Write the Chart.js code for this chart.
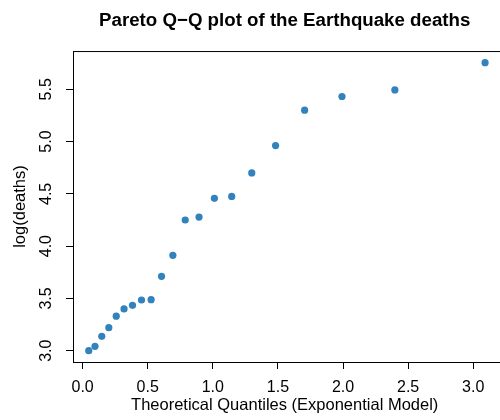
<!DOCTYPE html>
<html>
<head>
<meta charset="utf-8">
<script src="https://cdn.jsdelivr.net/npm/chart.js@4"></script>
<style>
  html, body { margin:0; padding:0; background:#fff; overflow:hidden; }
  #wrap { width:500px; height:420px; }
</style>
</head>
<body>
<div id="wrap"><canvas id="qq" width="500" height="420"></canvas></div>
<script>
// theoretical exponential quantiles vs log(deaths)
const quantiles = [0.047, 0.095, 0.147, 0.201, 0.258, 0.318, 0.383, 0.452, 0.526, 0.606, 0.693,
                   0.788, 0.894, 1.012, 1.145, 1.299, 1.482, 1.705, 1.992, 2.398, 3.091];
const logDeaths = [3.000, 3.042, 3.138, 3.220, 3.330, 3.400, 3.434, 3.485, 3.488, 3.711, 3.912,
                   4.250, 4.278, 4.457, 4.476, 4.700, 4.962, 5.300, 5.431, 5.494, 5.755];
const xTicks = [0, 0.5, 1, 1.5, 2, 2.5, 3];
const yTicks = [3, 3.5, 4, 4.5, 5, 5.5];

const FONT = "'Liberation Sans', Arial, Helvetica, sans-serif";

// R-style box around the plot region (right side runs off the canvas)
const frame = {
    id: "frame",
    afterDatasetsDraw(chart) {
        const { ctx, chartArea: a } = chart;
        ctx.save();
        ctx.strokeStyle = "#000";
        ctx.lineWidth = 1;
        ctx.strokeRect(a.left + 0.5, a.top + 0.5, a.right - a.left + 20, a.bottom - a.top);
        ctx.restore();
    }
};

new Chart(document.getElementById("qq"), {
    type: "scatter",
    data: {
        datasets: [{
            data: quantiles.map((q, i) => ({ x: q, y: logDeaths[i] })),
            backgroundColor: "#3182bd",
            borderColor: "#3182bd",
            borderWidth: 0,
            pointRadius: 3.6,
            pointHoverRadius: 3.6,
        }],
    },
    options: {
        responsive: false,
        animation: false,
        layout: { padding: 0 },
        plugins: {
            legend: { display: false },
            tooltip: { enabled: false },
            title: {
                display: true,
                text: "Pareto Q\u2212Q plot of the Earthquake deaths",
                color: "#000",
                fullSize: false,
                font: { family: FONT, size: 18.7, weight: "bold" },
                padding: { top: 9.8, bottom: 18.8 },
            },
        },
        scales: {
            x: {
                type: "linear",
                min: -0.074, max: 3.178,
                afterBuildTicks: s => { s.ticks = xTicks.map(v => ({ value: v })); },
                afterFit: s => { s.height = 58; },
                border: { display: false },
                grid: { drawOnChartArea: false, drawTicks: true, tickLength: 7, tickColor: "#000" },
                ticks: {
                    color: "#000", padding: 9, maxRotation: 0,
                    font: { family: FONT, size: 16 },
                    callback: v => v.toFixed(1),
                },
                title: {
                    display: true, text: "Theoretical Quantiles (Exponential Model)",
                    color: "#000", font: { family: FONT, size: 16.5 }, padding: { bottom: 5 },
                },
            },
            y: {
                type: "linear",
                min: 2.892, max: 5.866,
                afterBuildTicks: s => { s.ticks = yTicks.map(v => ({ value: v })); },
                afterFit: s => { s.width = 73; },
                border: { display: false },
                grid: { drawOnChartArea: false, drawTicks: true, tickLength: 7, tickColor: "#000" },
                ticks: {
                    color: "#000", padding: 8, minRotation: 90, maxRotation: 90, crossAlign: "center",
                    font: { family: FONT, size: 16 },
                    callback: v => v.toFixed(1),
                },
                title: {
                    display: true, text: "log(deaths)",
                    color: "#000", font: { family: FONT, size: 16.5 }, padding: { top: 11 },
                },
            },
        },
    },
    plugins: [frame],
});
</script>
</body>
</html>
